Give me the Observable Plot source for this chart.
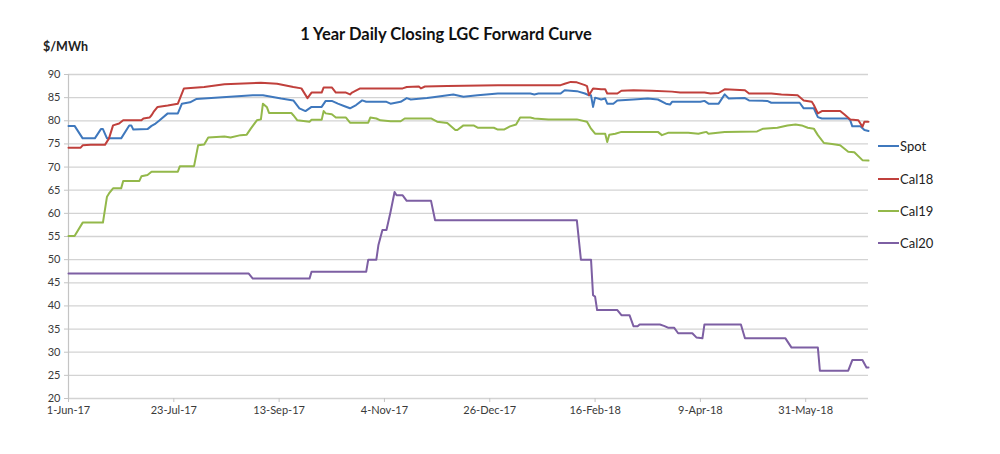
<!DOCTYPE html>
<html><head><meta charset="utf-8">
<script src="https://cdn.jsdelivr.net/npm/d3@7"></script>
<script src="https://cdn.jsdelivr.net/npm/@observablehq/plot@0.6"></script>
<style>
body{margin:0;background:#fff}
#chart{width:1000px;height:454px}
</style>
</head><body><div id="chart"></div>
<script>
const chartTitle = "1 Year Daily Closing LGC Forward Curve";
const yUnitLabel = "$/MWh";
const startDate = "2017-06-01";
const endDate = "2018-07-01";
const seriesNames = ["Spot", "Cal18", "Cal19", "Cal20"];
const seriesColors = ["#3f78bd", "#c0403c", "#93b84a", "#7d5fa3"];
const xTickDates = ["2017-06-01","2017-07-23","2017-09-13","2017-11-04","2017-12-26","2018-02-16","2018-04-09","2018-05-31"];
const xTickLabels = ["1-Jun-17","23-Jul-17","13-Sep-17","4-Nov-17","26-Dec-17","16-Feb-18","9-Apr-18","31-May-18"];
const yTicks = [20,25,30,35,40,45,50,55,60,65,70,75,80,85,90];

// day offsets from startDate and values, per series
const spotDays = [0,3,7,13,16,17,19,26,30,31,32,39,41,43,45,49,54,56,60,63,91,96,105,111,114,117,120,125,127,130,133,136,139,142,145,147,157,159,164,167,169,177,180,190,195,202,212,228,230,232,243,245,251,255,257,258,259,260,263,265,266,269,271,279,286,291,295,297,298,312,314,316,321,324,326,334,336,345,347,361,363,368,370,372,385,386,387,391,393,395];
const spotValues = [78.9,78.9,76.2,76.2,78.2,78.2,76.2,76.2,79.0,79.0,78.1,78.2,78.9,79.4,80.1,81.6,81.6,83.7,84.0,84.7,85.5,85.5,84.8,84.4,82.7,82.1,83.0,83.0,84.3,84.3,83.7,83.2,82.7,83.4,84.4,84.1,84.1,83.7,84.1,84.9,84.6,84.9,85.1,85.7,85.2,85.5,85.9,85.9,85.7,85.9,85.9,86.6,86.4,85.9,85.5,85.5,83.0,85.0,84.6,84.8,83.7,83.7,84.4,84.6,84.8,84.6,83.7,83.5,84.1,84.1,84.3,83.7,83.7,85.7,84.8,84.9,84.4,84.3,83.9,83.9,82.7,82.7,80.8,80.5,80.5,80.1,78.8,78.8,78.0,77.8];

const cal18Days = [0,6,7,11,18,20,22,25,27,36,37,40,41,42,44,49,54,57,67,77,95,103,111,115,118,120,125,126,130,132,137,139,140,144,165,167,173,174,176,187,212,243,245,248,251,255,256,257,259,263,265,266,271,273,279,288,298,302,314,317,321,324,334,336,347,352,360,363,367,368,370,372,381,383,386,390,392,393,395];
const cal18Values = [74.2,74.2,74.7,74.8,74.8,76.2,79.0,79.4,80.1,80.1,80.5,80.7,81.2,81.9,83.0,83.3,83.7,87.0,87.3,87.9,88.2,88.0,87.3,87.0,84.9,86.1,86.1,87.2,87.2,86.1,86.1,85.7,86.1,87.0,87.0,87.3,87.4,87.0,87.4,87.5,87.7,87.7,88.0,88.4,88.3,87.7,87.5,85.5,87.0,86.8,86.8,85.9,85.9,86.5,86.6,86.5,86.3,86.1,86.1,85.9,86.0,86.8,86.6,85.9,85.9,85.7,85.5,84.4,84.1,83.4,81.6,82.1,82.1,81.4,80.3,80.1,78.7,79.8,79.8];

const cal19Days = [0,3,7,17,19,20,22,26,27,35,36,39,41,54,55,62,64,67,69,77,80,85,88,90,93,95,96,98,99,110,111,113,119,120,125,126,127,130,132,137,139,148,149,152,154,159,164,166,179,182,187,191,192,195,200,202,210,212,215,218,221,223,228,230,237,251,256,258,260,265,266,267,270,273,291,293,296,306,311,313,315,316,324,340,343,350,355,359,362,365,368,370,373,377,381,383,385,388,392,395];
const cal19Values = [55.1,55.1,58.0,58.0,63.6,64.3,65.4,65.4,67.0,67.0,68.0,68.3,69.0,69.0,70.2,70.2,74.7,74.9,76.4,76.6,76.4,76.9,77.0,78.3,80.1,80.3,83.7,82.9,81.7,81.7,81.2,80.1,79.8,80.2,80.2,82.1,81.6,81.4,80.7,80.7,79.6,79.6,80.7,80.5,80.1,79.9,79.9,80.5,80.5,79.8,79.5,78.0,78.0,79.0,79.0,78.5,78.5,78.1,78.1,78.8,79.2,80.7,80.7,80.5,80.3,80.3,79.8,78.3,77.2,77.2,75.4,77.0,77.2,77.6,77.6,76.9,77.4,77.4,77.2,77.4,77.6,77.2,77.6,77.7,78.3,78.5,79.0,79.2,79.0,78.5,78.3,76.9,75.2,75.0,74.7,74.0,73.3,73.2,71.5,71.4];

const cal20Days = [0,89,91,119,120,147,148,152,153,155,157,159,161,162,165,167,179,181,251,253,258,259,260,261,271,273,277,279,281,282,292,294,296,299,301,308,310,313,314,332,334,354,357,370,371,385,387,392,394,395];
const cal20Values = [47.0,47.0,45.9,45.9,47.4,47.4,50.0,50.0,53.1,56.4,56.4,60.3,64.6,63.9,63.9,62.7,62.7,58.5,58.5,50.0,50.0,42.3,42.0,39.1,39.1,38.0,38.0,35.6,35.6,36.0,36.0,35.7,35.3,35.3,34.1,34.1,33.2,33.0,36.0,36.0,33.0,33.0,31.0,31.0,26.0,26.0,28.3,28.3,26.7,26.7];

const start = new Date(startDate + "T00:00:00Z");
const end = new Date(endDate + "T00:00:00Z");
const toRows = (name, days, values) => days.map((d, i) => ({series: name, date: d3.utcDay.offset(start, d), value: values[i]}));
const rows = [
  ...toRows("Spot", spotDays, spotValues),
  ...toRows("Cal18", cal18Days, cal18Values),
  ...toRows("Cal19", cal19Days, cal19Values),
  ...toRows("Cal20", cal20Days, cal20Values)
];
const xTicks = xTickDates.map(s => new Date(s + "T00:00:00Z"));

const plot = Plot.plot({
  width: 1000,
  height: 454,
  marginLeft: 68,
  marginRight: 132,
  marginTop: 74,
  marginBottom: 56,
  style: {fontFamily: "Lato, 'Open Sans', sans-serif", fontSize: "11px", color: "#3a3a3a", background: "white"},
  x: {type: "utc", domain: [start, end]},
  y: {domain: [20, 90]},
  color: {domain: seriesNames, range: seriesColors},
  marks: [
    Plot.ruleY(yTicks, {stroke: "#d3d3d3", strokeWidth: 1.3}),
    Plot.ruleX([start], {stroke: "#c4c4c4", strokeWidth: 1.2}),
    Plot.axisY({ticks: yTicks, label: null, tickSize: 4, tickPadding: 4, stroke: "#c4c4c4"}),
    Plot.axisX({ticks: xTicks, tickFormat: (d, i) => xTickLabels[i], label: null, tickSize: 4, tickPadding: 4, stroke: "#c4c4c4"}),
    Plot.lineY(rows, {x: "date", y: "value", z: "series", stroke: "series", strokeWidth: 2})
  ]
});
document.getElementById("chart").append(plot);

const svg = d3.select(plot);
svg.append("text").attr("x", 446).attr("y", 40).attr("text-anchor", "middle")
  .attr("font-family", "Lato, sans-serif").attr("font-size", 16.5).attr("font-weight", "bold").attr("fill", "#111")
  .text(chartTitle);
svg.append("text").attr("x", 43).attr("y", 51).attr("text-anchor", "start")
  .attr("font-family", "Lato, sans-serif").attr("font-size", 12.5).attr("font-weight", "bold").attr("fill", "#222")
  .text(yUnitLabel);
const legendY = [146, 179, 211, 243];
const lg = svg.append("g");
seriesNames.forEach((name, i) => {
  lg.append("line").attr("x1", 878).attr("x2", 899).attr("y1", legendY[i]).attr("y2", legendY[i])
    .attr("stroke", seriesColors[i]).attr("stroke-width", 2);
  lg.append("text").attr("x", 900).attr("y", legendY[i]).attr("dy", "0.35em").attr("text-anchor", "start")
    .attr("font-family", "Lato, sans-serif").attr("font-size", 13).attr("fill", "#222").text(name);
});
</script>
</body></html>
